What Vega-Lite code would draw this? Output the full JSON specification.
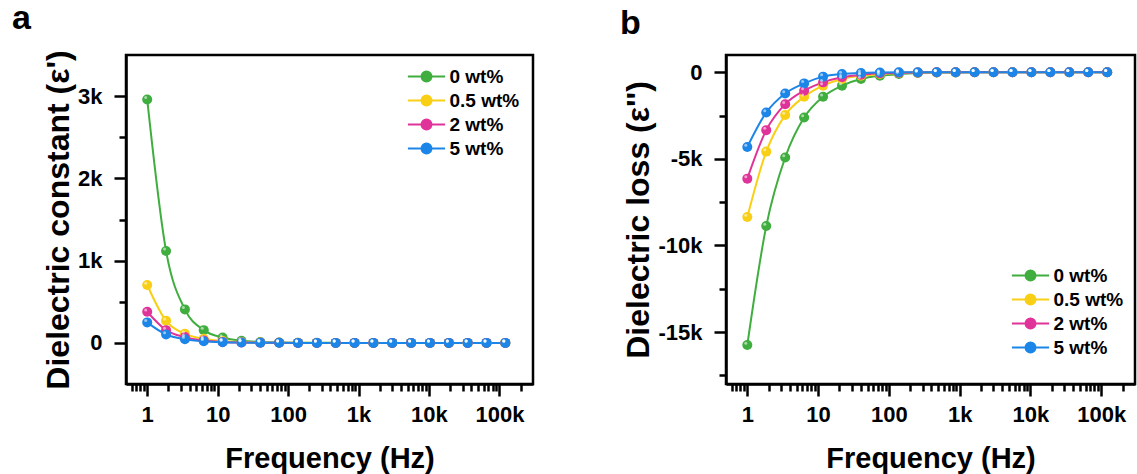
{
 "$schema": "https://vega.github.io/schema/vega-lite/v6.json",
 "background": "white",
 "padding": {"left": 10, "top": 0, "right": 0, "bottom": 0},
 "bounds": "flush",
 "spacing": 193,
 "config": {
  "view": {"stroke": "black", "strokeWidth": 2.5},
  "font": "Liberation Sans",
  "axis": {"grid": false, "domainColor": "black", "domainWidth": 2.5, "tickColor": "black", "tickWidth": 2.5, "labelFont": "Liberation Sans", "labelFontWeight": "bold", "labelFontSize": 22, "labelColor": "black", "titleFont": "Liberation Sans", "titleFontWeight": "bold", "titleFontSize": 29, "titleColor": "black", "labelPadding": 8, "labelOverlap": false, "labelFlush": false, "labelBound": false},
  "axisY": {"labelPadding": 12, "titleFontSize": 32, "titlePadding": 2},
  "legend": {"labelFont": "Liberation Sans", "labelFontWeight": "bold", "labelFontSize": 19, "labelColor": "black", "padding": 0, "rowPadding": 4, "labelOffset": 13.5, "symbolStrokeWidth": 2, "symbolSize": 144, "symbolType": "M-3.1,0H-0.83M0.83,0H3.1M0.83,0A0.83,0.83,0,1,1,-0.83,0A0.83,0.83,0,1,1,0.83,0"}
 },
 "datasets": {"d": [
  {"f":1,"s":"0 wt%","e1":2960,"e2":-15750},{"f":1.852,"s":"0 wt%","e1":1118,"e2":-8880},{"f":3.429,"s":"0 wt%","e1":407,"e2":-4920},{"f":6.35,"s":"0 wt%","e1":155,"e2":-2610},{"f":11.76,"s":"0 wt%","e1":65,"e2":-1410},{"f":21.78,"s":"0 wt%","e1":25,"e2":-770},{"f":40.33,"s":"0 wt%","e1":10,"e2":-390},{"f":74.69,"s":"0 wt%","e1":4,"e2":-200},{"f":138.3,"s":"0 wt%","e1":2,"e2":-100},{"f":256.1,"s":"0 wt%","e1":1,"e2":-40},{"f":474.3,"s":"0 wt%","e1":0,"e2":-15},{"f":878.3,"s":"0 wt%","e1":0,"e2":-5},{"f":1627,"s":"0 wt%","e1":0,"e2":0},{"f":3012,"s":"0 wt%","e1":0,"e2":0},{"f":5578,"s":"0 wt%","e1":0,"e2":0},{"f":10328,"s":"0 wt%","e1":0,"e2":0},{"f":19127,"s":"0 wt%","e1":0,"e2":0},{"f":35418,"s":"0 wt%","e1":0,"e2":0},{"f":65587,"s":"0 wt%","e1":0,"e2":0},{"f":121450,"s":"0 wt%","e1":0,"e2":0},
  {"f":1,"s":"0.5 wt%","e1":704,"e2":-8360},{"f":1.852,"s":"0.5 wt%","e1":268,"e2":-4580},{"f":3.429,"s":"0.5 wt%","e1":110,"e2":-2470},{"f":6.35,"s":"0.5 wt%","e1":50,"e2":-1410},{"f":11.76,"s":"0.5 wt%","e1":22,"e2":-770},{"f":21.78,"s":"0.5 wt%","e1":10,"e2":-390},{"f":40.33,"s":"0.5 wt%","e1":4,"e2":-200},{"f":74.69,"s":"0.5 wt%","e1":2,"e2":-100},{"f":138.3,"s":"0.5 wt%","e1":1,"e2":-40},{"f":256.1,"s":"0.5 wt%","e1":0,"e2":-15},{"f":474.3,"s":"0.5 wt%","e1":0,"e2":-5},{"f":878.3,"s":"0.5 wt%","e1":0,"e2":0},{"f":1627,"s":"0.5 wt%","e1":0,"e2":0},{"f":3012,"s":"0.5 wt%","e1":0,"e2":0},{"f":5578,"s":"0.5 wt%","e1":0,"e2":0},{"f":10328,"s":"0.5 wt%","e1":0,"e2":0},{"f":19127,"s":"0.5 wt%","e1":0,"e2":0},{"f":35418,"s":"0.5 wt%","e1":0,"e2":0},{"f":65587,"s":"0.5 wt%","e1":0,"e2":0},{"f":121450,"s":"0.5 wt%","e1":0,"e2":0},
  {"f":1,"s":"2 wt%","e1":378,"e2":-6140},{"f":1.852,"s":"2 wt%","e1":155,"e2":-3340},{"f":3.429,"s":"2 wt%","e1":70,"e2":-1840},{"f":6.35,"s":"2 wt%","e1":30,"e2":-1060},{"f":11.76,"s":"2 wt%","e1":12,"e2":-580},{"f":21.78,"s":"2 wt%","e1":5,"e2":-290},{"f":40.33,"s":"2 wt%","e1":2,"e2":-140},{"f":74.69,"s":"2 wt%","e1":1,"e2":-60},{"f":138.3,"s":"2 wt%","e1":0,"e2":-20},{"f":256.1,"s":"2 wt%","e1":0,"e2":-5},{"f":474.3,"s":"2 wt%","e1":0,"e2":0},{"f":878.3,"s":"2 wt%","e1":0,"e2":0},{"f":1627,"s":"2 wt%","e1":0,"e2":0},{"f":3012,"s":"2 wt%","e1":0,"e2":0},{"f":5578,"s":"2 wt%","e1":0,"e2":0},{"f":10328,"s":"2 wt%","e1":0,"e2":0},{"f":19127,"s":"2 wt%","e1":0,"e2":0},{"f":35418,"s":"2 wt%","e1":0,"e2":0},{"f":65587,"s":"2 wt%","e1":0,"e2":0},{"f":121450,"s":"2 wt%","e1":0,"e2":0},
  {"f":1,"s":"5 wt%","e1":249,"e2":-4310},{"f":1.852,"s":"5 wt%","e1":102,"e2":-2320},{"f":3.429,"s":"5 wt%","e1":45,"e2":-1220},{"f":6.35,"s":"5 wt%","e1":20,"e2":-640},{"f":11.76,"s":"5 wt%","e1":9,"e2":-250},{"f":21.78,"s":"5 wt%","e1":4,"e2":-100},{"f":40.33,"s":"5 wt%","e1":2,"e2":-35},{"f":74.69,"s":"5 wt%","e1":1,"e2":-10},{"f":138.3,"s":"5 wt%","e1":0,"e2":0},{"f":256.1,"s":"5 wt%","e1":0,"e2":0},{"f":474.3,"s":"5 wt%","e1":0,"e2":0},{"f":878.3,"s":"5 wt%","e1":0,"e2":0},{"f":1627,"s":"5 wt%","e1":0,"e2":0},{"f":3012,"s":"5 wt%","e1":0,"e2":0},{"f":5578,"s":"5 wt%","e1":0,"e2":0},{"f":10328,"s":"5 wt%","e1":0,"e2":0},{"f":19127,"s":"5 wt%","e1":0,"e2":0},{"f":35418,"s":"5 wt%","e1":0,"e2":0},{"f":65587,"s":"5 wt%","e1":0,"e2":0},{"f":121450,"s":"5 wt%","e1":0,"e2":0}
 ]},
 "resolve": {"legend": {"color": "independent"}},
 "hconcat": [
  {
   "width": 407, "height": 329,
   "data": {"name": "d"},
   "title": {"text": "a", "anchor": "start", "frame": "group", "fontSize": 34, "font": "Liberation Sans", "fontWeight": "bold", "color": "black", "dx": -114, "offset": -13, "baseline": "alphabetic"},
   "encoding": {
    "x": {"field": "f", "type": "quantitative", "scale": {"type": "log", "domain": [0.5, 300000], "nice": false},
      "axis": {"title": "Frequency (Hz)", "titlePadding": 19,
        "values": [0.6,0.7,0.8,0.9,1,2,3,4,5,6,7,8,9,10,20,30,40,50,60,70,80,90,100,200,300,400,500,600,700,800,900,1000,2000,3000,4000,5000,6000,7000,8000,9000,10000,20000,30000,40000,50000,60000,70000,80000,90000,100000,200000],
        "labelExpr": "datum.value==1?'1':datum.value==10?'10':datum.value==100?'100':datum.value==1000?'1k':datum.value==10000?'10k':datum.value==100000?'100k':''",
        "tickSize": {"condition": {"test": "indexof([1,10,100,1000,10000,100000], datum.value) >= 0", "value": 12}, "value": 7}}},
    "y": {"field": "e1", "type": "quantitative", "scale": {"domain": [-500, 3500], "nice": false, "zero": false},
      "axis": {"title": "Dielectric constant (ε')",
        "values": [0,500,1000,1500,2000,2500,3000],
        "labelExpr": "datum.value==0?'0':(datum.value%1000==0?(datum.value/1000)+'k':'')",
        "tickSize": {"condition": {"test": "datum.value % 1000 == 0", "value": 12}, "value": 7}}},
    "color": {"field": "s", "type": "nominal", "scale": {"domain": ["0 wt%","0.5 wt%","2 wt%","5 wt%"], "range": ["#3fae3f","#f9cf16","#e0339a","#1c85e8"]},
      "legend": {"title": null, "orient": "none", "legendX": 291, "legendY": 12}}
   },
   "layer": [
    {"mark": {"type": "line", "interpolate": "monotone", "strokeWidth": 2}},
    {"mark": {"type": "point", "filled": true, "size": 100, "opacity": 1}},
    {"mark": {"type": "point", "filled": true, "size": 9, "color": "white", "opacity": 0.55, "xOffset": -1.5, "yOffset": -1.8}, "encoding": {"color": {"value": "white"}}}
   ]
  },
  {
   "width": 409, "height": 329,
   "data": {"name": "d"},
   "title": {"text": "b", "anchor": "start", "frame": "group", "fontSize": 34, "font": "Liberation Sans", "fontWeight": "bold", "color": "black", "dx": -106, "offset": -13, "baseline": "alphabetic"},
   "encoding": {
    "x": {"field": "f", "type": "quantitative", "scale": {"type": "log", "domain": [0.5, 300000], "nice": false},
      "axis": {"title": "Frequency (Hz)", "titlePadding": 19,
        "values": [0.6,0.7,0.8,0.9,1,2,3,4,5,6,7,8,9,10,20,30,40,50,60,70,80,90,100,200,300,400,500,600,700,800,900,1000,2000,3000,4000,5000,6000,7000,8000,9000,10000,20000,30000,40000,50000,60000,70000,80000,90000,100000,200000],
        "labelExpr": "datum.value==1?'1':datum.value==10?'10':datum.value==100?'100':datum.value==1000?'1k':datum.value==10000?'10k':datum.value==100000?'100k':''",
        "tickSize": {"condition": {"test": "indexof([1,10,100,1000,10000,100000], datum.value) >= 0", "value": 12}, "value": 7}}},
    "y": {"field": "e2", "type": "quantitative", "scale": {"domain": [-18000, 1000], "nice": false, "zero": false},
      "axis": {"title": "Dielectric loss (ε'')",
        "values": [-17500,-15000,-12500,-10000,-7500,-5000,-2500,0],
        "labelExpr": "datum.value==0?'0':(datum.value%5000==0?(datum.value/1000)+'k':'')",
        "tickSize": {"condition": {"test": "datum.value % 5000 == 0", "value": 12}, "value": 7}}},
    "color": {"field": "s", "type": "nominal", "scale": {"domain": ["0 wt%","0.5 wt%","2 wt%","5 wt%"], "range": ["#3fae3f","#f9cf16","#e0339a","#1c85e8"]},
      "legend": {"title": null, "orient": "none", "legendX": 295, "legendY": 211}}
   },
   "layer": [
    {"mark": {"type": "line", "interpolate": "monotone", "strokeWidth": 2}},
    {"mark": {"type": "point", "filled": true, "size": 100, "opacity": 1}},
    {"mark": {"type": "point", "filled": true, "size": 9, "color": "white", "opacity": 0.55, "xOffset": -1.5, "yOffset": -1.8}, "encoding": {"color": {"value": "white"}}}
   ]
  }
 ]
}
